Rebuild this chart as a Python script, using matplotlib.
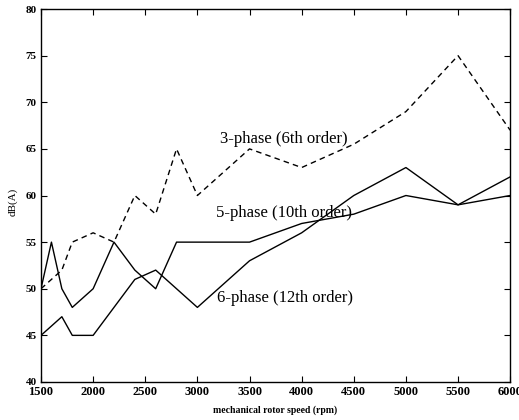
import matplotlib
matplotlib.use("Agg")
import matplotlib.pyplot as plt

plt.rcParams['font.family'] = ['Liberation Serif', 'DejaVu Serif']

speed_3ph = [1500, 1700, 1800, 2000, 2200, 2400, 2600, 2800, 3000, 3500, 4000, 4500, 5000, 5500, 6000]
db_3ph = [50, 52, 55, 56, 55, 60, 58, 65, 60, 65, 63, 65.5, 69, 75, 67]

speed_5ph = [1500, 1600, 1700, 1800, 2000, 2200, 2400, 2600, 2800, 3000, 3500, 4000, 4500, 5000, 5500, 6000]
db_5ph = [50, 55, 50, 48, 50, 55, 52, 50, 55, 55, 55, 57, 58, 60, 59, 60]

speed_6ph = [1500, 1700, 1800, 2000, 2400, 2600, 3000, 3500, 4000, 4500, 5000, 5500, 6000]
db_6ph = [45, 47, 45, 45, 51, 52, 48, 53, 56, 60, 63, 59, 62]

xticks = [1500, 2000, 2500, 3000, 3500, 4000, 4500, 5000, 5500, 6000]
yticks = [40, 45, 50, 55, 60, 65, 70, 75, 80]

fig = plt.figure(figsize=(5.19, 4.20), dpi=100)
ax = fig.add_axes([0.079, 0.0905, 0.904, 0.888])

ax.plot(speed_3ph, db_3ph, color='black', lw=1.0, linestyle=(0, (4, 3)))
ax.plot(speed_5ph, db_5ph, color='black', lw=1.0)
ax.plot(speed_6ph, db_6ph, color='black', lw=1.0)

ax.set_xlim(1500, 6000)
ax.set_ylim(40, 80)
ax.set_xticks(xticks)
ax.set_yticks(yticks)
ax.set_xticklabels([str(t) for t in xticks], fontsize=9, fontweight='bold')
ax.set_yticklabels([str(t) for t in yticks], fontsize=8, fontweight='bold')
ax.tick_params(direction='in', top=True, right=True, length=4, width=0.8, pad=3)
for s in ax.spines.values():
    s.set_linewidth(1.0)

ax.text(3215, 66.1, '3-phase (6th order)', fontsize=12, ha='left', va='center')
ax.text(3180, 58.1, '5-phase (10th order)', fontsize=12, ha='left', va='center')
ax.text(3190, 49.0, '6-phase (12th order)', fontsize=12, ha='left', va='center')

fig.text(0.024, 0.52, 'dB(A)', rotation=90, fontsize=8, ha='center', va='center')
fig.text(0.53, 0.024, 'mechanical rotor speed (rpm)', fontsize=7, fontweight='bold', ha='center', va='center')

fig.savefig('out.png', dpi=100)
